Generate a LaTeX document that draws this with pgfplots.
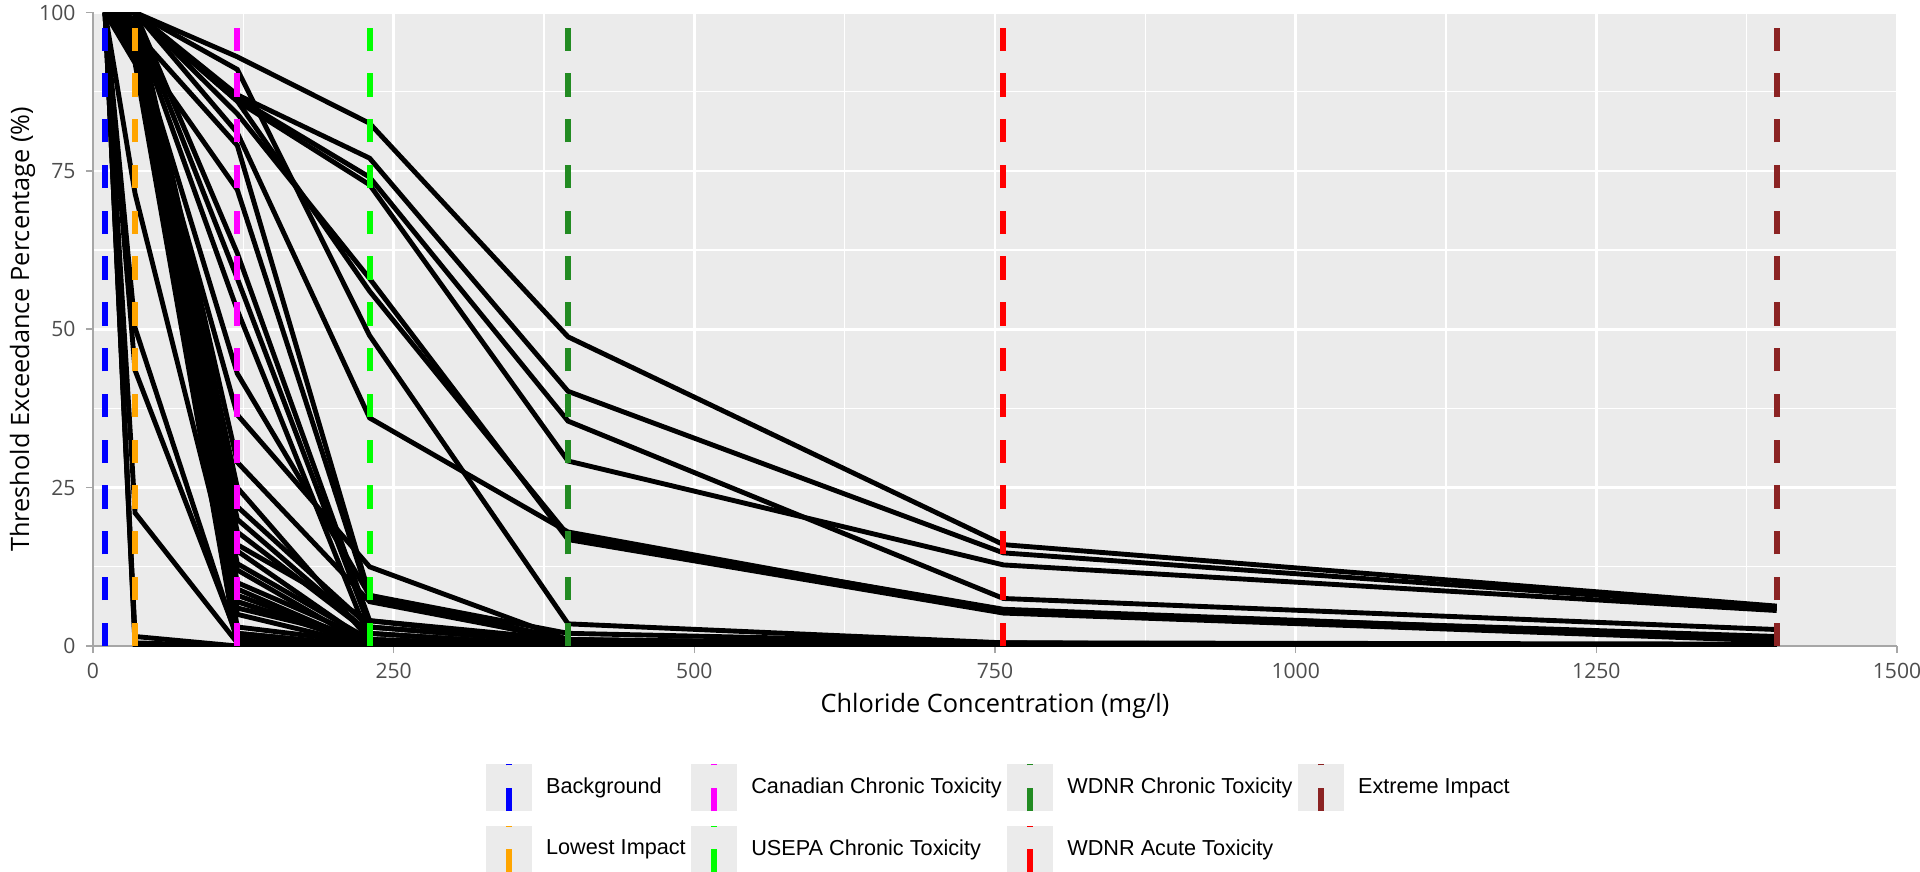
\documentclass[border=0pt]{standalone}
\usepackage{pgfplots}
\pgfplotsset{compat=1.18}
\usepackage{fontspec}
\setmainfont{Open Sans}
\newfontfamily\legendfont{Liberation Sans}
\definecolor{panel}{HTML}{EBEBEB}
\definecolor{tickgray}{HTML}{4D4D4D}
\definecolor{axisgray}{HTML}{A6A6A6}
\definecolor{orangeC}{HTML}{FFA500}
\definecolor{greenC}{HTML}{00FF00}
\definecolor{magC}{HTML}{FF00FF}
\definecolor{blueC}{HTML}{0000FF}
\definecolor{redC}{HTML}{FF0000}
\definecolor{fgreen}{HTML}{228B22}
\definecolor{dred}{HTML}{8B2323}
\newcommand\site[7]{\addplot[black, line width=2.2pt, forget plot] coordinates {(10,#1)(35,#2)(120,#3)(230,#4)(395,#5)(757,#6)(1400,#7)};}
\begin{document}
\begin{tikzpicture}
\useasboundingbox (-41.85pt,-101.25pt) rectangle (822.15pt,290.7pt);
\begin{axis}[
  at={(0,0)}, anchor=south west,
  scale only axis, width=811.8pt, height=285.1pt,
  xmin=0, xmax=1500, ymin=0, ymax=100,
  xtick={0,250,500,750,1000,1250,1500},
  ytick={0,25,50,75,100},
  minor x tick num=1, minor y tick num=1,
  grid=both,
  major grid style={white, line width=1.2pt},
  minor grid style={white, line width=0.6pt},
  axis background/.style={fill=panel},
  axis x line*=bottom, axis y line*=left,
  axis line style={axisgray, line width=0.7pt},
  tick align=outside,
  major tick length=3.2pt, minor tick length=0pt,
  tick style={axisgray, line width=0.7pt},
  /pgf/number format/assume math mode=true,
  /pgf/number format/set thousands separator={},
  ticklabel style={font=\fontsize{9.5}{11}\selectfont, text=tickgray},
  xticklabel style={inner sep=0pt, anchor=north, yshift=-4.4pt},
  yticklabel style={inner sep=0pt, anchor=east, xshift=-4.5pt},
  xlabel={Chloride Concentration (mg/l)},
  ylabel={Threshold Exceedance Percentage (\%)},
  label style={font=\fontsize{11.4}{13}\selectfont},
  xlabel style={at={(axis description cs:0.5,-0.0947)}, anchor=center, inner sep=0pt},
  ylabel style={at={(axis description cs:-0.03905,0.5)}, anchor=center, inner sep=0pt},
  dashvl/.style={line width=2.7pt, dash pattern=on 10.5pt off 10.1pt},
  legend image code/.code={
    \fill[panel, draw=none] (0pt,-10.6pt) rectangle (20.7pt,10.6pt);
    \draw (10.35pt,-10.6pt) -- (10.35pt,10.6pt);
  },
  legend columns=4,
  legend style={at={(axis description cs:0.2179,-0.1815)}, anchor=north west,
    draw=none, fill=none, inner sep=0pt, outer sep=0pt,
    font=\legendfont\fontsize{9.75}{11}\selectfont,
    row sep=3.8pt,
    nodes={inner sep=0pt, anchor=west},
    /tikz/every odd column/.append style={column sep=6.3pt},
    /tikz/every even column/.append style={column sep=2.5pt}},
]
% sites: values at 10, 35, 120, 230, 395, 757, 1400 mg/l
\site{100}{100}{93}{82.5}{48.8}{16}{6.3}
\site{100}{100}{87}{77}{40.2}{14.7}{6}
\site{100}{100}{86.5}{74}{35.5}{7.5}{2.6}
\site{100}{100}{86}{72.8}{29.2}{12.8}{5.6}
\site{100}{100}{86}{56}{17.5}{5.8}{1.2}
\site{100}{100}{84}{58}{16.8}{5.2}{0.8}
\site{100}{100}{91}{49}{3.5}{0.5}{0.3}
\site{100}{100}{81}{36}{18}{5.5}{1.5}
\site{100}{97}{79}{8}{1}{0.3}{0}
\site{100}{95}{72}{7.5}{0.8}{0}{0}
\site{100}{100}{62}{4}{0.5}{0}{0}
\site{100}{99}{58}{3}{0.5}{0}{0}
\site{100}{98}{53}{1}{0}{0}{0}
\site{100}{96}{43}{8}{2}{0.5}{0}
\site{100}{94}{36.5}{12.5}{1}{0.3}{0}
\site{100}{100}{29}{7}{1}{0}{0}
\site{100}{99}{22}{3}{0.5}{0}{0}
\site{100}{97}{18}{2}{0}{0}{0}
\site{100}{96}{16}{4}{1}{0}{0}
\site{100}{95}{13}{1}{0}{0}{0}
\site{100}{93}{7}{0.5}{0}{0}{0}
\site{100}{92.7}{6}{1}{0}{0}{0}
\site{100}{71.4}{7}{0}{0}{0}{0}
\site{100}{50.2}{1}{0}{0}{0}{0}
\site{100}{43.5}{1.5}{0}{0}{0}{0}
\site{100}{21}{0.5}{0}{0}{0}{0}
\site{100}{0.5}{0}{0}{0}{0}{0}
\site{100}{0}{0}{0}{0}{0}{0}
\site{100}{1.5}{0}{0}{0}{0}{0}
\site{100}{100}{2}{0}{0}{0}{0}
\site{100}{99}{1.5}{0}{0}{0}{0}
\site{100}{98}{1}{0}{0}{0}{0}
\site{100}{97}{0.5}{0}{0}{0}{0}
\site{100}{100}{0}{0}{0}{0}{0}
\site{100}{96}{0}{0}{0}{0}{0}
\site{100}{95}{2}{0}{0}{0}{0}
\site{100}{94}{1}{0}{0}{0}{0}
\site{100}{93}{0.5}{0}{0}{0}{0}
\site{100}{92}{0}{0}{0}{0}{0}
\site{100}{100}{5}{0}{0}{0}{0}
\site{100}{99}{3}{0.5}{0}{0}{0}
\site{100}{98}{8}{0.5}{0}{0}{0}
\site{100}{100}{10}{1}{0}{0}{0}
\site{100}{97}{12}{0}{0}{0}{0}
\site{100}{95}{20}{2}{0}{0}{0}
\site{100}{100}{25}{1}{0}{0}{0}
\site{100}{99}{15}{0.5}{0}{0}{0}
\site{100}{96}{9}{0}{0}{0}{0}
% thresholds (row-major legend order)
\addplot[blueC, dashvl] coordinates {(10,0)(10,100)};
\addlegendentry{Background}
\addplot[magC, dashvl] coordinates {(120,0)(120,100)};
\addlegendentry{Canadian Chronic Toxicity}
\addplot[fgreen, dashvl] coordinates {(395,0)(395,100)};
\addlegendentry{WDNR Chronic Toxicity}
\addplot[dred, dashvl] coordinates {(1400,0)(1400,100)};
\addlegendentry{Extreme Impact}
\addplot[orangeC, dashvl] coordinates {(35,0)(35,100)};
\addlegendentry{Lowest Impact}
\addplot[greenC, dashvl] coordinates {(230,0)(230,100)};
\addlegendentry{USEPA Chronic Toxicity}
\addplot[redC, dashvl] coordinates {(757,0)(757,100)};
\addlegendentry{WDNR Acute Toxicity}
\end{axis}
\end{tikzpicture}
\end{document}
